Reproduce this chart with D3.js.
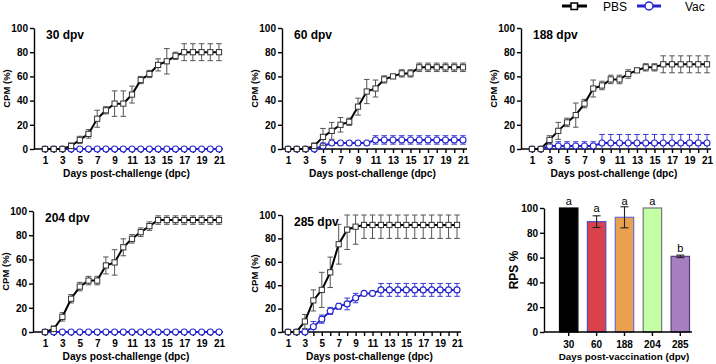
<!DOCTYPE html>
<html>
<head>
<meta charset="utf-8">
<script src="https://cdn.jsdelivr.net/npm/d3@7"></script>
<style>
  body { margin: 0; background: #fff; }
  svg { font-family: "Liberation Sans", Arial, sans-serif; }
  .tick text { font-weight: bold; font-size: 10px; }
  .axis path, .axis line { stroke: #000; stroke-width: 1.4; }
</style>
</head>
<body>
<div id="chart"></div>
<script>
/* CPM curves for the 5 vaccination time points + RPS bar chart */

const width = 716, height = 364;

const days = [1, 2, 3, 4, 5, 6, 7, 8, 9, 10, 11, 12, 13, 14, 15, 16, 17, 18, 19, 20, 21];
const yTicks = [0, 20, 40, 60, 80, 100];

// 30 dpv
const pbs30 = [0, 0, 0, 2.5, 7.5, 12.5, 25, 32, 37.5, 37.5, 45, 57, 62, 69.5, 72.5, 77, 80, 80, 80, 80, 80];
const pbs30Err = [0, 0, 0, 2.5, 3, 3.5, 7, 3, 10.5, 10.5, 7, 3, 3, 5, 10.5, 3, 7, 7, 7, 7, 7];
const vac30 = [0, 0, 0, 0, 0, 0, 0, 0, 0, 0, 0, 0, 0, 0, 0, 0, 0, 0, 0, 0, 0];
const vac30Err = [0, 0, 0, 0, 0, 0, 0, 0, 0, 0, 0, 0, 0, 0, 0, 0, 0, 0, 0, 0, 0];

// 60 dpv
const pbs60 = [0, 0, 0, 2.5, 10, 15, 20, 22.5, 35, 47.5, 50, 57.5, 60, 62.5, 62.5, 67.5, 67.5, 67.5, 67.5, 67.5, 67.5];
const pbs60Err = [0, 0, 0, 2.5, 7, 7, 6, 3, 7, 10, 7, 3, 0, 3, 3, 3.5, 3.5, 3.5, 3.5, 3.5, 3.5];
const vac60 = [0, 0, 0, 0, 2.5, 5, 5, 5, 5, 5, 7.5, 7.5, 7.5, 7.5, 7.5, 7.5, 7.5, 7.5, 7.5, 7.5, 7.5];
const vac60Err = [0, 0, 0, 0, 2.5, 0, 0, 0, 0, 0, 3.5, 3.5, 3.5, 3.5, 3.5, 3.5, 3.5, 3.5, 3.5, 3.5, 3.5];

// 188 dpv
const pbs188 = [0, 0, 7.5, 15, 22, 28, 37.5, 50, 52.5, 57.5, 57.5, 62, 65, 67.5, 67.5, 70, 70, 70, 70, 70, 70];
const pbs188Err = [0, 0, 3.5, 7, 3.5, 10, 3.5, 7, 3.5, 3.5, 3.5, 3.5, 0, 3, 3, 7, 7, 7, 7, 7, 7];
const vac188 = [0, 0, 2.5, 2.5, 2.5, 2.5, 2.5, 2.5, 5, 5, 5, 5, 5, 5, 5, 5, 5, 5, 5, 5, 5];
const vac188Err = [0, 0, 3.5, 3.5, 3.5, 3.5, 3.5, 3.5, 7, 7, 7, 7, 7, 7, 7, 7, 7, 7, 7, 7, 7];

// 204 dpv
const pbs204 = [0, 2.5, 12.5, 27.5, 37.5, 42.5, 42.5, 55, 57.5, 70, 77, 82.5, 87.5, 92.5, 92.5, 92.5, 92.5, 92.5, 92.5, 92.5, 92.5];
const pbs204Err = [0, 2.5, 3.5, 3.5, 3.5, 3.5, 3.5, 7, 10.5, 7, 3.5, 3.5, 3.5, 3.5, 3.5, 3.5, 3.5, 3.5, 3.5, 3.5, 3.5];
const vac204 = [0, 0, 0, 0, 0, 0, 0, 0, 0, 0, 0, 0, 0, 0, 0, 0, 0, 0, 0, 0, 0];
const vac204Err = [0, 0, 0, 0, 0, 0, 0, 0, 0, 0, 0, 0, 0, 0, 0, 0, 0, 0, 0, 0, 0];

// 285 dpv
const pbs285 = [0, 0, 9, 27, 36, 51, 75, 87.5, 90, 91.5, 91.5, 91.5, 91.5, 91.5, 91.5, 91.5, 91.5, 91.5, 91.5, 91.5, 91.5];
const pbs285Err = [0, 0, 6, 9, 15, 13, 17, 17, 15, 11.5, 11.5, 11.5, 11.5, 11.5, 11.5, 11.5, 11.5, 11.5, 11.5, 11.5, 11.5];
const vac285 = [0, 0, 0, 4.5, 11, 18, 22, 24, 29, 33, 33, 36, 36, 36, 36, 36, 36, 36, 36, 36, 36];
const vac285Err = [0, 0, 0, 4.5, 3.5, 3, 2.5, 5, 4, 0, 0, 5.5, 5.5, 5.5, 5.5, 5.5, 5.5, 5.5, 5.5, 5.5, 5.5];

// RPS bar chart
const rpsGroups = ["30", "60", "188", "204", "285"];
const rpsValues = [100, 89, 92.5, 100, 61];
const rpsErr = [0, 4.7, 8.5, 0, 1];
const rpsLetters = ["a", "a", "a", "a", "b"];
const rpsColors = ["#000000", "#d9424a", "#eba04e", "#c4ffa5", "#a57fbf"];
const rpsStrokes = ["#000000", "#5050c8", "#6a6ad8", "#777777", "#5a3d78"];

const pbsColor = "#000", vacColor = "#2424cc";

const svg = d3.select("#chart")
    .append("svg")
    .attr("width", width)
    .attr("height", height);

// panel layout (axis origin, first/last day position, y range)
const panels = [
    { label: "30 dpv", left: 34, x1: 45, x21: 219, top: 28, bottom: 149, pbs: pbs30, pbsErr: pbs30Err, vac: vac30, vacErr: vac30Err },
    { label: "60 dpv", left: 282, x1: 288, x21: 463, top: 28, bottom: 149, pbs: pbs60, pbsErr: pbs60Err, vac: vac60, vacErr: vac60Err },
    { label: "188 dpv", left: 521, x1: 532, x21: 707, top: 28, bottom: 149, pbs: pbs188, pbsErr: pbs188Err, vac: vac188, vacErr: vac188Err },
    { label: "204 dpv", left: 33, x1: 45, x21: 219, top: 211, bottom: 332, pbs: pbs204, pbsErr: pbs204Err, vac: vac204, vacErr: vac204Err },
    { label: "285 dpv", left: 282, x1: 288, x21: 457, top: 215, bottom: 332, pbs: pbs285, pbsErr: pbs285Err, vac: vac285, vacErr: vac285Err }
];

function errorBars(g, x, y, vals, errs, color) {
    const pts = days.map((d, i) => ({ d: d, v: vals[i], e: errs[i] })).filter(p => p.e > 0);
    const hi = p => y(Math.min(100, p.v + p.e)),
          lo = p => y(Math.max(0, p.v - p.e));
    const eg = g.append("g").attr("stroke", color).attr("stroke-width", 1);
    eg.selectAll(".stem").data(pts).join("line")
        .attr("x1", p => x(p.d)).attr("x2", p => x(p.d))
        .attr("y1", hi).attr("y2", lo);
    eg.selectAll(".capT").data(pts).join("line")
        .attr("x1", p => x(p.d) - 2.8).attr("x2", p => x(p.d) + 2.8)
        .attr("y1", hi).attr("y2", hi);
    eg.selectAll(".capB").data(pts.filter(p => p.v - p.e > 0)).join("line")
        .attr("x1", p => x(p.d) - 2.8).attr("x2", p => x(p.d) + 2.8)
        .attr("y1", lo).attr("y2", lo);
}

function linePanel(p) {
    const g = svg.append("g");
    let x = d3.scaleLinear().domain([1, 21]).range([p.x1, p.x21]);
    let y = d3.scaleLinear().domain([0, 100]).range([p.bottom, p.top]);

    g.append("g")
        .attr("class", "axis")
        .attr("transform", `translate(${p.left},0)`)
        .call(d3.axisLeft(y).tickValues(yTicks).tickSize(4).tickPadding(2).tickSizeOuter(0));

    let xa = g.append("g")
        .attr("class", "axis")
        .attr("transform", `translate(0,${p.bottom})`)
        .call(d3.axisBottom(x).tickValues(days).tickFormat(d => d % 2 ? d : "").tickSize(4).tickPadding(4).tickSizeOuter(0));
    xa.select(".domain").remove();
    xa.append("line")
        .attr("x1", p.left).attr("x2", p.x21 + 4)
        .attr("stroke", "#000").attr("stroke-width", 1.4);

    g.append("text")
        .attr("transform", `translate(${p.left - 24},${(p.top + p.bottom) / 2}) rotate(-90)`)
        .attr("text-anchor", "middle")
        .attr("font-weight", "bold")
        .attr("font-size", 9.5)
        .text("CPM (%)");

    g.append("text")
        .attr("x", (p.left + p.x21) / 2)
        .attr("y", p.bottom + 28)
        .attr("text-anchor", "middle")
        .attr("font-weight", "bold")
        .attr("font-size", 10.2)
        .text("Days post-challenge (dpc)");

    g.append("text")
        .attr("x", p.left + 12)
        .attr("y", p.top + 10.5)
        .attr("font-weight", "bold")
        .attr("font-size", 12)
        .text(p.label);

    let line = d3.line().x((v, i) => x(days[i])).y(v => y(v));

    // vaccinated group
    errorBars(g, x, y, p.vac, p.vacErr, "#3a3ad8");
    g.append("path").datum(p.vac)
        .attr("d", line).attr("fill", "none")
        .attr("stroke", vacColor).attr("stroke-width", 2);
    g.selectAll(".vacPt").data(p.vac).join("circle")
        .attr("cx", (v, i) => x(days[i])).attr("cy", v => y(v))
        .attr("r", 3).attr("fill", "#fff")
        .attr("stroke", vacColor).attr("stroke-width", 1.1);

    // PBS group
    errorBars(g, x, y, p.pbs, p.pbsErr, "#555");
    g.append("path").datum(p.pbs)
        .attr("d", line).attr("fill", "none")
        .attr("stroke", pbsColor).attr("stroke-width", 2);
    g.selectAll(".pbsPt").data(p.pbs).join("rect")
        .attr("x", (v, i) => x(days[i]) - 2.6).attr("y", v => y(v) - 2.6)
        .attr("width", 5.2).attr("height", 5.2).attr("fill", "#fff")
        .attr("stroke", "#333").attr("stroke-width", 1);
}

panels.forEach(linePanel);

/* RPS bar chart */
const bar = { left: 544, top: 208, bottom: 332, right: 692 };
let bx = d3.scaleBand().domain(rpsGroups).range([550, 699]).padding(0.34);
let by = d3.scaleLinear().domain([0, 100]).range([bar.bottom, bar.top]);
const bg = svg.append("g");

bg.selectAll(".bar").data(rpsGroups).join("rect")
    .attr("x", d => bx(d))
    .attr("y", (d, i) => by(rpsValues[i]))
    .attr("width", bx.bandwidth())
    .attr("height", (d, i) => by(0) - by(rpsValues[i]))
    .attr("fill", (d, i) => rpsColors[i])
    .attr("stroke", (d, i) => rpsStrokes[i])
    .attr("stroke-width", 1.2);

const errData = rpsGroups.map((d, i) => ({ g: d, v: rpsValues[i], e: rpsErr[i] })).filter(d => d.e > 0);
bg.selectAll(".estem").data(errData).join("line")
    .attr("x1", d => bx(d.g) + bx.bandwidth() / 2).attr("x2", d => bx(d.g) + bx.bandwidth() / 2)
    .attr("y1", d => by(d.v + d.e)).attr("y2", d => by(d.v - d.e))
    .attr("stroke", "#222").attr("stroke-width", 1.1);
bg.selectAll(".ecap").data(errData.flatMap(d => [d.v + d.e, d.v - d.e].map(v => ({ g: d.g, v: v })))).join("line")
    .attr("x1", d => bx(d.g) + bx.bandwidth() / 2 - 4).attr("x2", d => bx(d.g) + bx.bandwidth() / 2 + 4)
    .attr("y1", d => by(d.v)).attr("y2", d => by(d.v))
    .attr("stroke", "#222").attr("stroke-width", 1.1);

bg.selectAll(".letter").data(rpsGroups).join("text")
    .attr("x", d => bx(d) + bx.bandwidth() / 2)
    .attr("y", (d, i) => by(Math.min(100, rpsValues[i] + rpsErr[i])) - 3.5)
    .attr("text-anchor", "middle")
    .attr("font-size", 11)
    .text((d, i) => rpsLetters[i]);

bg.append("g")
    .attr("class", "axis")
    .attr("transform", `translate(${bar.left},0)`)
    .call(d3.axisLeft(by).tickValues(yTicks).tickSize(4).tickPadding(2).tickSizeOuter(0));

let bxa = bg.append("g")
    .attr("class", "axis")
    .attr("transform", `translate(0,${bar.bottom})`)
    .call(d3.axisBottom(bx).tickSize(4).tickPadding(5).tickSizeOuter(0));
bxa.select(".domain").remove();
bxa.append("line").attr("x1", bar.left).attr("x2", bar.right)
    .attr("stroke", "#000").attr("stroke-width", 1.4);

bg.append("text")
    .attr("transform", `translate(518,270) rotate(-90)`)
    .attr("text-anchor", "middle")
    .attr("font-weight", "bold")
    .attr("font-size", 12)
    .text("RPS %");

bg.append("text")
    .attr("x", 624)
    .attr("y", 360)
    .attr("text-anchor", "middle")
    .attr("font-weight", "bold")
    .attr("font-size", 9.8)
    .text("Days post-vaccination (dpv)");

/* legend */
const legend = svg.append("g");
legend.append("line").attr("x1", 562).attr("x2", 587).attr("y1", 6).attr("y2", 6)
    .attr("stroke", pbsColor).attr("stroke-width", 3);
legend.append("rect").attr("x", 571).attr("y", 3).attr("width", 6.5).attr("height", 6.5)
    .attr("fill", "#fff").attr("stroke", "#000").attr("stroke-width", 1.5);
legend.append("text").attr("x", 603).attr("y", 10.5).attr("font-size", 12).text("PBS");
legend.append("line").attr("x1", 637).attr("x2", 661).attr("y1", 6).attr("y2", 6)
    .attr("stroke", vacColor).attr("stroke-width", 3);
legend.append("circle").attr("cx", 649).attr("cy", 6).attr("r", 4)
    .attr("fill", "#fff").attr("stroke", vacColor).attr("stroke-width", 1.5);
legend.append("text").attr("x", 685).attr("y", 10.5).attr("font-size", 12).text("Vac");
</script>
</body>
</html>
